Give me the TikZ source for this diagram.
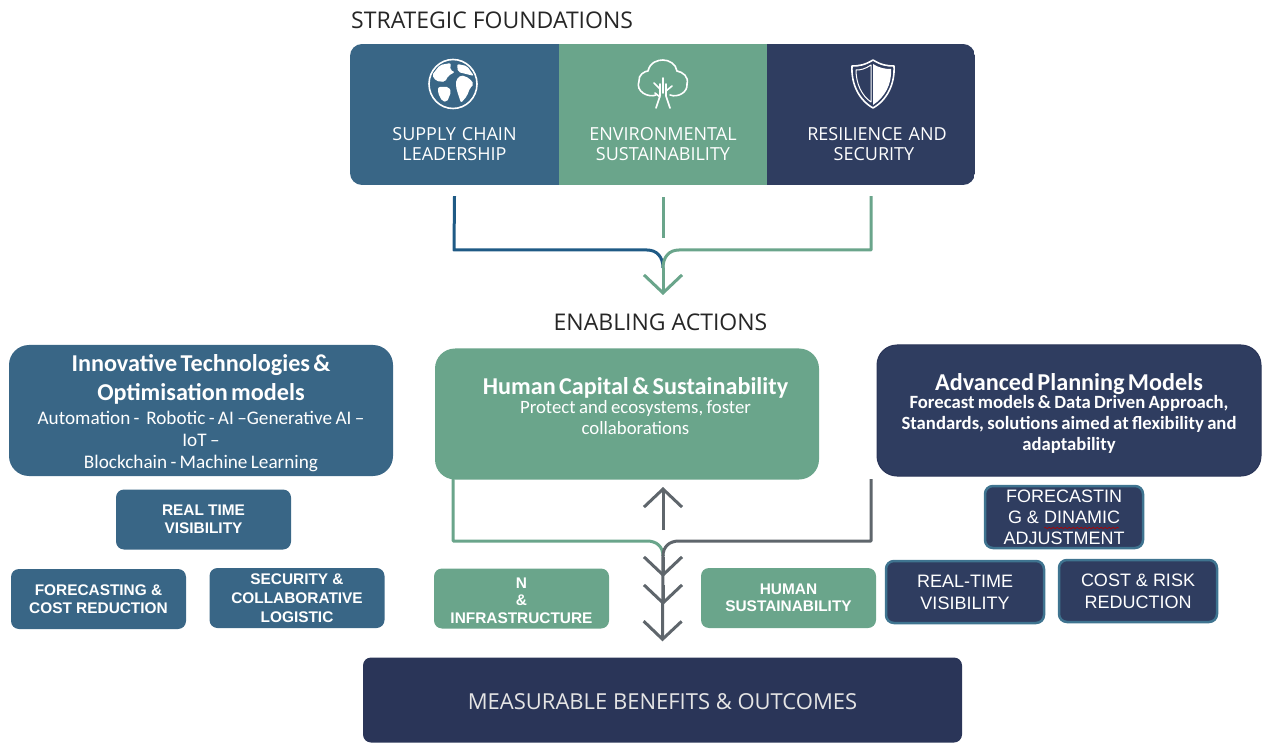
\documentclass[tikz,border=0pt]{standalone}
\usepackage{fontspec}
\usepackage{xcolor}
\setmainfont{Carlito}
\newfontfamily\headfont{Open Sans}
\newfontfamily\capsfont{Liberation Sans}
\usetikzlibrary{arrows.meta,decorations.pathmorphing}
\definecolor{MyBlue}{HTML}{396686}
\definecolor{MyGreen}{HTML}{6AA58B}
\definecolor{MyNavy}{HTML}{2F3D60}
\definecolor{MyDeep}{HTML}{2A3558}
\definecolor{MyWire}{HTML}{1F5A85}
\definecolor{MyGrey}{HTML}{5F666C}
\definecolor{MyEdge}{HTML}{3F7490}
\newcommand{\MyFont}[3]{\fontseries{#1}\fontsize{#2}{#3}\selectfont}
\tikzset{
	MyPanel/.style={minimum height=141pt,text width=207pt,align=center,inner sep=0pt,text=white,
    font=\headfont\fontsize{18}{20}\selectfont},
	MyBig/.style={rounded corners=20pt,minimum width=384pt,minimum height=131pt,inner sep=0pt,
    text width=376pt,text=white,align=center},
	MySmall/.style={rounded corners=8pt,minimum width=175pt,minimum height=60pt,inner sep=0pt,
    text=white,align=center,font=\capsfont\bfseries\fontsize{15.4}{17.5}\selectfont},
	MyFrame/.style={MySmall,draw=MyEdge,line width=2.5pt,fill=MyNavy,minimum width=158pt,
    minimum height=62pt,font=\capsfont\fontsize{18}{22}\selectfont},
	MyHead/.style={text=black!85,inner sep=0pt,font=\headfont\fontsize{23}{26}\selectfont},
	MyWires/.style={line width=3pt,line join=round},
	MyTip/.style={-{Straight Barb[length=18pt,width=38pt,line width=3pt]}},
	MyIcon/.style={white,line width=1.6pt,line join=round,line cap=round}
		}
\begin{document}
\begin{tikzpicture}[x=1pt,y=-1pt]
	\useasboundingbox (0,0) rectangle (1264,743);
	\def\mx{663}% Axis of all the arrows

	\node[MyHead,anchor=west] (strategic) at (351,20) {STRATEGIC FOUNDATIONS};
	\node[MyHead] (enabling) at (660.5,322) {ENABLING ACTIONS};

	\begin{scope}
		\clip[rounded corners=12pt] (350,44) rectangle (975,185);
		\node[MyPanel,fill=MyBlue,minimum width=209pt] (supply) at (454.5,114.5) {\mbox{}\\[52pt]SUPPLY CHAIN\\LEADERSHIP};
		\node[MyPanel,fill=MyGreen,minimum width=208pt] (environment) at (663,114.5) {\mbox{}\\[52pt]ENVIRONMENTAL\\SUSTAINABILITY};
		\node[MyPanel,fill=MyNavy,minimum width=208pt] (resilience) at (871,114.5) {\mbox{}\\[52pt]\hspace*{12pt}RESILIENCE AND\\\hspace*{6pt}SECURITY};
	\end{scope}

	% Globe
	\begin{scope}[shift={(453,84)}]
		\draw[MyIcon] (0,0) ellipse (24 and 24.5);
		\fill[white,rounded corners=2pt] (-21,-9)--(-13,-19)--(-2,-21)--(-3,-14)--(2,-12)--(-5,-8)--(-8,-2)--(-17,-3)--cycle;
		\fill[white,rounded corners=2pt] (-15,3)--(-4,3)--(-2,8)--(-6,18)--(-11,17)--(-15,9)--cycle;
		\fill[white,rounded corners=2pt] (3,-4)--(8,-9)--(16,-6)--(21,0)--(17,4)--(14,12)--(8,19)--(5,10)--(3,3)--cycle;
		\fill[white,rounded corners=2pt] (4,-20)--(14,-18)--(21,-8)--(13,-10)--(5,-12)--cycle;
	\end{scope}
	% Tree
	\begin{scope}[shift={(663,84)}]
		\draw[MyIcon] (-7,24)--(-3,12)--(-3,0) (7,24)--(3,12)--(3,0)
			(-3,5)--(-9,-1) (3,7)--(9,2) (0,-6)--(0,9) (-3,13)--(-8,9);
		\draw[MyIcon] (-7,11) .. controls (-14,14) and (-28,8) .. (-24,-3)
			.. controls (-25,-9) and (-18,-13) .. (-15,-13)
			.. controls (-13,-22) and (-5,-24) .. (0,-24)
			.. controls (6,-24) and (13,-20) .. (14,-13)
			.. controls (20,-12) and (26,-7) .. (24,0)
			.. controls (25,8) and (15,14) .. (7,11);
	\end{scope}
	% Shield
	\begin{scope}[shift={(873,84)}]
		\fill[white] (0,-20) .. controls (6,-16) and (12,-15) .. (18,-15)
			.. controls (19,0) and (12,13) .. (0,21)--cycle;
		\draw[MyIcon] (0,-24) .. controls (-8,-19) and (-14,-18) .. (-21,-18)
			.. controls (-22,0) and (-14,16) .. (0,24)
			.. controls (14,16) and (22,0) .. (21,-18)
			.. controls (14,-18) and (8,-19) .. (0,-24)--cycle;
		\draw[MyIcon,line width=1pt] (-2,-19) .. controls (-8,-15) and (-12,-14) .. (-17,-14)
			.. controls (-17,0) and (-11,12) .. (-2,18)--cycle;
	\end{scope}

	\node[MyBig,fill=MyBlue] (innovative) at (201,410.5) {%
		\MyFont{b}{24.2}{29}\rule{0pt}{22pt}Innovative Technologies \&\\Optimisation models\\[2pt]%
		\MyFont{m}{19.2}{22}Automation -\ \ Robotic - AI --Generative AI --\\IoT --\\Blockchain - Machine Learning\par};
	\node[MyBig,fill=MyGreen] (human) at (627,414) {%
		\MyFont{b}{24.2}{24}\hspace*{17pt}Human Capital \& Sustainability\\[-2pt]%
		\MyFont{m}{18.8}{21}\hspace*{17pt}Protect and ecosystems, foster\\\hspace*{17pt}collaborations\par\vspace{16pt}};
	\node[MyBig,fill=MyNavy,draw=MyDeep,line width=1pt] (advanced) at (1069,410.5) {%
		\MyFont{b}{24.2}{24}\rule{0pt}{22pt}Advanced Planning Models\\[-3pt]%
		\MyFont{b}{18.7}{21}Forecast models \& Data Driven Approach,\\Standards, solutions aimed at flexibility and\\adaptability\par};

	\node[MySmall,fill=MyBlue] (realtime) at (203.5,519.5) {REAL TIME\\VISIBILITY};
	\node[MySmall,fill=MyBlue] (forecasting) at (98.5,599) {FORECASTING \&\\COST REDUCTION};
	\node[MySmall,fill=MyBlue,font=\capsfont\bfseries\fontsize{15.4}{19}\selectfont] (security) at (297,598) {SECURITY \&\\COLLABORATIVE\\LOGISTIC};
	\node[MySmall,fill=MyGreen] (infra) at (521.5,598.5) {\rule{0pt}{14.5pt}N\\\&\\INFRASTRUCTURE};
	\node[MySmall,fill=MyGreen] (sustain) at (788.5,598) {HUMAN\\SUSTAINABILITY};
	\node[MyFrame,font=\capsfont\fontsize{18}{21}\selectfont] (dynamic) at (1064,517) {FORECASTIN\\G \& DINAMIC\\ADJUSTMENT};
	\node[MyFrame] (visibility) at (965,592) {REAL-TIME\\VISIBILITY};
	\node[MyFrame] (risk) at (1138,591) {COST \& RISK\\REDUCTION};
	\draw[red!70!black,line width=0.6pt,decorate,decoration={snake,amplitude=0.7pt,segment length=4pt}]
		(1044,528) -- (1119,528);

	\node[fill=MyDeep,rounded corners=8pt,minimum width=599pt,minimum height=85pt,inner sep=0pt,text=white!90!black,
		font=\headfont\fontsize{22}{24}\selectfont] (outcomes) at (662.5,700) {\rule{0pt}{20pt}MEASURABLE BENEFITS \& OUTCOMES};

	% Upper merge
	\coordinate (TopTip) at (\mx,295);
	\draw[MyWires,MyWire] ([yshift=-11pt]supply.south) -- (454,250) -- (647,250)
		.. controls (657,250) and (\mx,257) .. (\mx,268);
	\draw[MyWires,MyGreen] ([yshift=-11pt]resilience.south) -- (871,250) -- (679,250)
		.. controls (669,250) and (\mx,257) .. (\mx,268);
	\draw[MyWires,MyGreen] ([yshift=-12pt]environment.south) -- (\mx,238);
	\draw[MyWires,MyGreen,MyTip] (\mx,268) -- (TopTip);

	% Lower merge
	\coordinate (UpTip) at (\mx,487);
	\coordinate (UpEnd) at (\mx,530);
	\coordinate (LowRight) at (871,479);
	\draw[MyWires,MyGreen] (453,479) -- (453,541) -- (647,541)
		.. controls (657,541) and (\mx,547) .. (\mx,556);
	\draw[MyWires,MyGrey] (LowRight) -- (871,541) -- (679,541)
		.. controls (669,541) and (\mx,547) .. (\mx,556);
	\draw[MyWires,MyGrey,MyTip] (UpEnd) -- (UpTip);
	\foreach \t in {577,605}{%
		\draw[MyWires,MyGrey,MyTip] (\mx,\t-20) -- (\mx,\t);
	}
	\draw[MyWires,MyGrey,MyTip] (\mx,555) -- ([yshift=16pt]outcomes.north);
\end{tikzpicture}
\end{document}
